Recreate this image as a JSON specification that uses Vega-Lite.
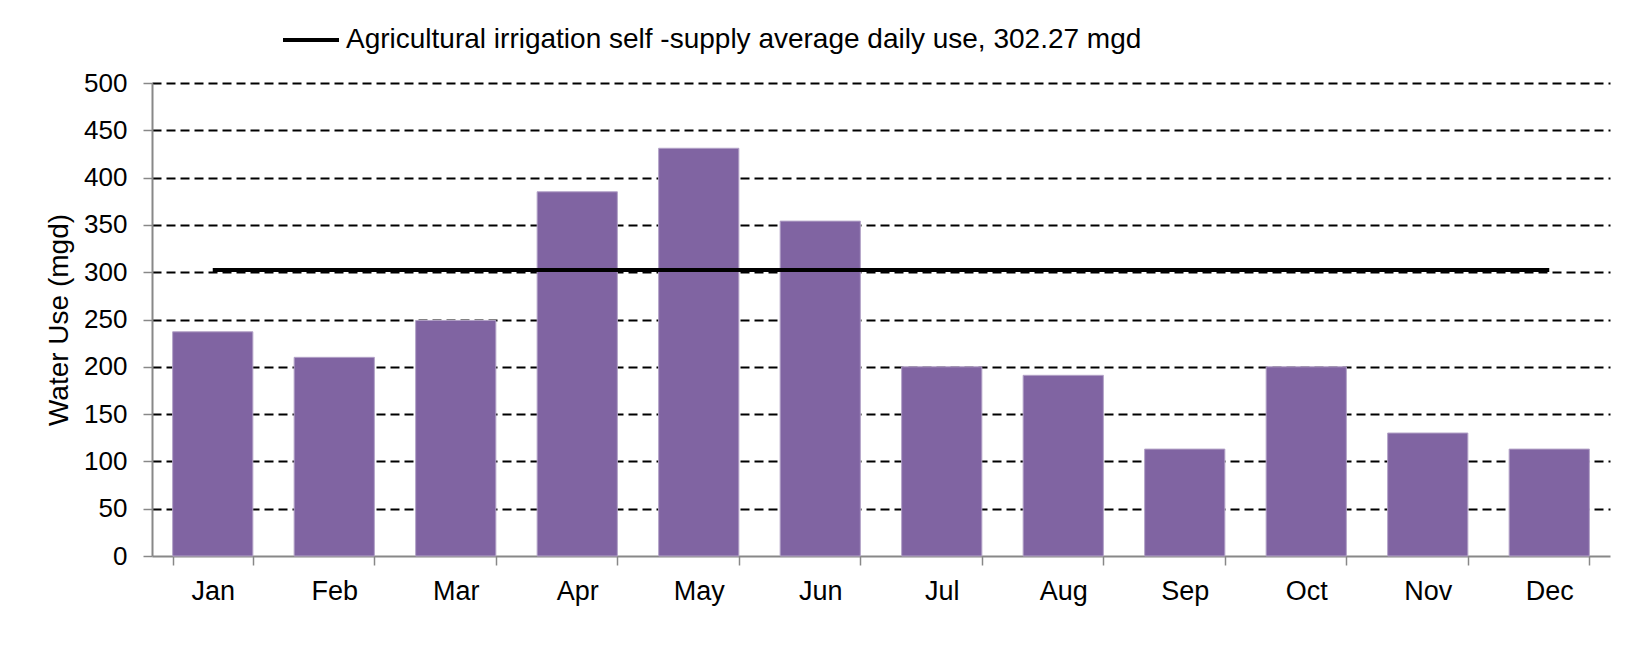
{
  "$schema": "https://vega.github.io/schema/vega-lite/v6.json",
  "width": 1458,
  "height": 473,
  "autosize": {"type": "none"},
  "padding": {"left": 152, "top": 83, "right": 33, "bottom": 96},
  "background": "white",
  "config": {
    "font": "Liberation Sans",
    "view": {"stroke": null}
  },
  "data": {
    "values": [
      {"month": "Jan", "use": 237, "avg": 302.27, "series": "Agricultural irrigation self -supply average daily use, 302.27 mgd"},
      {"month": "Feb", "use": 210, "avg": 302.27, "series": "Agricultural irrigation self -supply average daily use, 302.27 mgd"},
      {"month": "Mar", "use": 249, "avg": 302.27, "series": "Agricultural irrigation self -supply average daily use, 302.27 mgd"},
      {"month": "Apr", "use": 385, "avg": 302.27, "series": "Agricultural irrigation self -supply average daily use, 302.27 mgd"},
      {"month": "May", "use": 431, "avg": 302.27, "series": "Agricultural irrigation self -supply average daily use, 302.27 mgd"},
      {"month": "Jun", "use": 354, "avg": 302.27, "series": "Agricultural irrigation self -supply average daily use, 302.27 mgd"},
      {"month": "Jul", "use": 200, "avg": 302.27, "series": "Agricultural irrigation self -supply average daily use, 302.27 mgd"},
      {"month": "Aug", "use": 191, "avg": 302.27, "series": "Agricultural irrigation self -supply average daily use, 302.27 mgd"},
      {"month": "Sep", "use": 113, "avg": 302.27, "series": "Agricultural irrigation self -supply average daily use, 302.27 mgd"},
      {"month": "Oct", "use": 200, "avg": 302.27, "series": "Agricultural irrigation self -supply average daily use, 302.27 mgd"},
      {"month": "Nov", "use": 130, "avg": 302.27, "series": "Agricultural irrigation self -supply average daily use, 302.27 mgd"},
      {"month": "Dec", "use": 113, "avg": 302.27, "series": "Agricultural irrigation self -supply average daily use, 302.27 mgd"}
    ]
  },
  "encoding": {
    "x": {
      "field": "month",
      "type": "nominal",
      "sort": null,
      "scale": {"paddingInner": 0.34, "paddingOuter": 0.17},
      "axis": {
        "title": null,
        "labelAngle": 0,
        "labelFontSize": 27,
        "labelColor": "black",
        "labelPadding": 13,
        "tickBand": "extent",
        "tickSize": 9,
        "tickColor": "#888888",
        "tickWidth": 1.5,
        "domainColor": "#888888",
        "domainWidth": 2,
        "grid": false
      }
    }
  },
  "layer": [
    {
      "mark": {"type": "bar", "color": "#8064A2", "stroke": "#B3A2C7", "strokeWidth": 1},
      "encoding": {
        "y": {
          "field": "use",
          "type": "quantitative",
          "scale": {"domain": [0, 500], "nice": false},
          "axis": {
            "title": "Water Use (mgd)",
            "titleFontSize": 28,
            "titleFontWeight": "normal",
            "titleColor": "black",
            "titlePadding": 10,
            "values": [0, 50, 100, 150, 200, 250, 300, 350, 400, 450, 500],
            "labelFontSize": 26,
            "labelColor": "black",
            "labelPadding": 16,
            "tickSize": 9,
            "tickColor": "#888888",
            "tickWidth": 1.5,
            "domainColor": "#888888",
            "domainWidth": 2,
            "grid": true,
            "gridColor": "black",
            "gridWidth": 2,
            "gridDash": [9, 5],
            "gridOpacity": {"condition": {"test": "datum.value === 0", "value": 0}, "value": 1}
          }
        }
      }
    },
    {
      "mark": {"type": "line", "strokeWidth": 4},
      "encoding": {
        "y": {"field": "avg", "type": "quantitative"},
        "stroke": {
          "field": "series",
          "type": "nominal",
          "scale": {"range": ["black"]},
          "legend": {
            "title": null,
            "orient": "none",
            "legendX": 129,
            "legendY": -73,
            "padding": 0,
            "symbolType": "stroke",
            "symbolSize": 3136,
            "symbolStrokeWidth": 4,
            "symbolStrokeColor": "black",
            "labelFontSize": 28,
            "labelColor": "black",
            "labelOffset": 5,
            "labelLimit": 1200
          }
        }
      }
    }
  ]
}
